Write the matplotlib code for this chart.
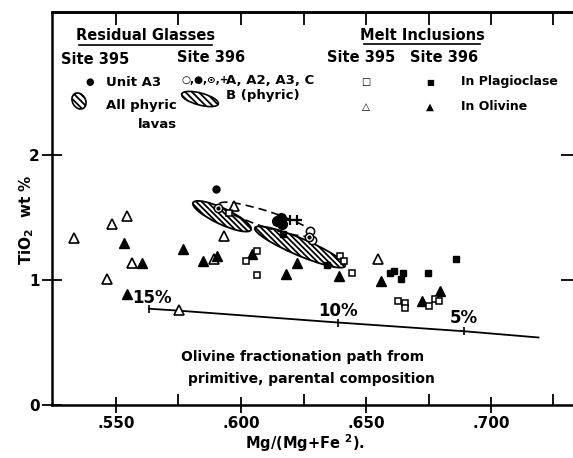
import matplotlib
matplotlib.use("Agg")
import matplotlib.pyplot as plt
import matplotlib.transforms as mtransforms
from matplotlib.patches import Ellipse
from matplotlib.ticker import FixedLocator, FixedFormatter, NullFormatter

plt.rcParams['font.family'] = ['DejaVu Sans']
plt.rcParams['font.weight'] = 'bold'
plt.rcParams['hatch.linewidth'] = 1.3

# ---- data ----
tri_open_x = [0.5331, 0.5484, 0.5543, 0.5563, 0.5465, 0.5753, 0.5893, 0.5932, 0.5973, 0.6547]
tri_open_y = [1.34, 1.45, 1.51, 1.14, 1.01, 0.76, 1.17, 1.35, 1.59, 1.17]
tri_fill_x = [0.5533, 0.5604, 0.5543, 0.5769, 0.5850, 0.5903, 0.6043, 0.6180, 0.6223, 0.6393, 0.6560, 0.6723, 0.6796]
tri_fill_y = [1.30, 1.14, 0.89, 1.25, 1.15, 1.19, 1.21, 1.05, 1.14, 1.03, 0.99, 0.83, 0.91]
sq_open_x = [0.5950, 0.6063, 0.6020, 0.6063, 0.6396, 0.6412, 0.6445, 0.6627, 0.6656, 0.6656, 0.6750, 0.6776, 0.6793]
sq_open_y = [1.54, 1.23, 1.15, 1.04, 1.19, 1.15, 1.06, 0.83, 0.82, 0.78, 0.79, 0.85, 0.83]
sq_fill_x = [0.6167, 0.6343, 0.6596, 0.6610, 0.6647, 0.6640, 0.6747, 0.6860]
sq_fill_y = [1.37, 1.12, 1.06, 1.07, 1.06, 1.01, 1.06, 1.17]
glass395_x = [0.5900]
glass395_y = [1.73]
glassA_x = [0.6276, 0.6285]           # open circles (A)
glassA_y = [1.39, 1.32]
glassA2_x = [0.6145, 0.6160, 0.6165]  # filled circles (A2)
glassA2_y = [1.47, 1.50, 1.45]
glassA3_x = [0.5910, 0.6272]          # dotted circles (A3)
glassA3_y = [1.58, 1.345]
glassC_x = [0.6196, 0.6225]           # plus (C)
glassC_y = [1.48, 1.48]
frac_x = [0.5633, 0.5749, 0.6387, 0.6893, 0.7190]
frac_y = [0.770, 0.755, 0.660, 0.590, 0.540]
frac_tick_x = [0.5633, 0.6387, 0.6893]
frac_tick_y = [0.770, 0.660, 0.590]
frac_labels = ['15%', '10%', '5%']
xticks_major = [0.550, 0.600, 0.650, 0.700]
xtick_labels = ['.550', '.600', '.650', '.700']
xticks_minor = [0.575, 0.625, 0.675, 0.725]
yticks = [0, 1, 2]
ytick_labels = ['0', '1', '2']
# ellipses: center x, center y, length (in), width (in), angle (deg)
ell_395 = (0.5924, 1.51, 0.64, 0.16, -25)
ell_396B = (0.6236, 1.264, 0.98, 0.17, -23)
ell_dash = (0.6104, 1.485, 1.00, 0.16, -18)

fig = plt.figure(figsize=(5.73, 4.58), dpi=100)
ax = fig.add_axes([52/573, (458-405)/458, 1 - 52/573, (405-12)/458])
ax.set_xlim(0.5244, 0.7328)
ax.set_ylim(0, 3.144)

def ellipse(p, **kw):
    cx, cy, L, W, ang = p
    tr = fig.dpi_scale_trans + mtransforms.ScaledTranslation(cx, cy, ax.transData)
    e = Ellipse((0, 0), L, W, angle=ang, transform=tr, **kw)
    ax.add_patch(e)

H = '\\' * 6
ellipse(ell_395, facecolor='white', edgecolor='black', hatch=H, lw=1.3, zorder=2)
ellipse(ell_396B, facecolor='white', edgecolor='black', hatch=H, lw=1.3, zorder=2)
ellipse(ell_dash, facecolor='none', edgecolor='black', lw=1.2, ls=(0, (5, 3)), zorder=2)

# fractionation path
ax.plot(frac_x, frac_y, color='black', lw=1.3, zorder=3)
ax.plot(frac_tick_x, frac_tick_y, ls='none', marker='|', ms=6, mew=1.2, color='black', zorder=3)
lab_off = [(2, 8), (0, 8), (0, 9.5)]
for x, y, t, off in zip(frac_tick_x, frac_tick_y, frac_labels, lab_off):
    ax.annotate(t, (x, y), xytext=off, textcoords='offset points', ha='center', va='center',
                fontsize=12, fontweight='bold')

ax.plot(tri_open_x, tri_open_y, ls='none', marker='^', ms=6.5, mfc='white', mec='black', mew=1.2, zorder=4)
ax.plot(tri_fill_x, tri_fill_y, ls='none', marker='^', ms=6.5, mfc='black', mec='black', zorder=4)
ax.plot(sq_open_x, sq_open_y, ls='none', marker='s', ms=4.5, mfc='white', mec='black', mew=1.1, zorder=4)
ax.plot(sq_fill_x, sq_fill_y, ls='none', marker='s', ms=4.5, mfc='black', mec='black', zorder=4)
ax.plot(glass395_x, glass395_y, ls='none', marker='o', ms=5, mfc='black', mec='black', zorder=4)
ax.plot(glassA_x, glassA_y, ls='none', marker='o', ms=6, mfc='white', mec='black', mew=1.1, zorder=4)
ax.plot(glassA2_x, glassA2_y, ls='none', marker='o', ms=7, mfc='black', mec='black', zorder=4)
ax.plot(glassA3_x, glassA3_y, ls='none', marker='o', ms=6, mfc='white', mec='black', mew=1.1, zorder=4)
ax.plot(glassA3_x, glassA3_y, ls='none', marker='o', ms=2, mfc='black', mec='black', zorder=5)
ax.plot(glassC_x, glassC_y, ls='none', marker='+', ms=7, mew=1.6, color='black', zorder=4)

# axes styling
for s in ['left', 'bottom', 'top']:
    ax.spines[s].set_linewidth(1.8)
ax.spines['right'].set_visible(False)
ax.xaxis.set_major_locator(FixedLocator(xticks_major))
ax.xaxis.set_major_formatter(FixedFormatter(xtick_labels))
ax.xaxis.set_minor_locator(FixedLocator(xticks_minor))
ax.yaxis.set_major_locator(FixedLocator(yticks))
ax.yaxis.set_major_formatter(FixedFormatter(ytick_labels))
ax.tick_params(axis='x', which='major', direction='inout', length=12, width=1.3,
               labelsize=11, pad=2)
ax.tick_params(axis='x', which='minor', direction='in', length=8, width=1.3)
ax.tick_params(axis='y', which='major', direction='inout', length=14, width=1.3,
               labelsize=11, pad=2)
for lab in ax.get_xticklabels() + ax.get_yticklabels():
    lab.set_fontweight('bold')

# top ticks (inward only)
top = ax.secondary_xaxis('top')
top.xaxis.set_major_locator(FixedLocator(xticks_major + xticks_minor))
top.xaxis.set_major_formatter(NullFormatter())
top.tick_params(direction='in', length=9, width=1.3)
top.spines['top'].set_linewidth(1.8)
# right ticks (inward only)
rgt = ax.secondary_yaxis('right')
rgt.yaxis.set_major_locator(FixedLocator(yticks[1:]))
rgt.yaxis.set_major_formatter(NullFormatter())
rgt.tick_params(direction='in', length=9, width=1.3)
rgt.spines['right'].set_visible(False)

fig.text(27/573, 1 - 220/458, 'TiO$_\\mathbf{2}$  wt %', rotation=90, ha='center', va='center',
         fontsize=11, fontweight='bold')
fig.text(305/573, 1 - 443/458, 'Mg/(Mg+Fe $^\\mathbf{2}$).', ha='center', va='center',
         fontsize=10.5, fontweight='bold')

# in-plot text
def ftext(px, py, s, size=9.5, ha='left', **kw):
    fig.text(px/573, 1 - py/458, s, ha=ha, va='center', fontsize=size, fontweight='bold', **kw)

ftext(146, 36, 'Residual Glasses', size=10.5, ha='center')
ax.plot([79/573, 212/573], [1 - 45/458]*2, transform=fig.transFigure, color='black', lw=1.2, clip_on=False)
ftext(422, 35, 'Melt Inclusions', size=10.5, ha='center')
ax.plot([364/573, 480/573], [1 - 44/458]*2, transform=fig.transFigure, color='black', lw=1.2, clip_on=False)
ftext(95, 59, 'Site 395', size=10.5, ha='center')
ftext(211, 57, 'Site 396', size=10.5, ha='center')
ftext(361, 57, 'Site 395', size=10.5, ha='center')
ftext(444, 57, 'Site 396', size=10.5, ha='center')
ftext(90, 82, '\u25CF', size=7, ha='center')
ftext(106, 82, 'Unit A3', size=9.5)
ftext(106, 106, 'All phyric', size=9.5)
ftext(138, 124, 'lavas', size=9.5)
ftext(181, 80, '\u25CB,\u25CF,\u2299,+', size=7.5)
ftext(226, 81, 'A, A2, A3, C', size=9.5)
ftext(226, 95, 'B (phyric)', size=9.5)
ftext(366, 82, '\u25A1', size=7, ha='center')
ftext(430, 82, '\u25A0', size=6, ha='center')
ftext(366, 107, '\u25B3', size=7.5, ha='center')
ftext(430, 107, '\u25B2', size=7.5, ha='center')
ftext(461, 81, 'In Plagioclase', size=9)
ftext(461, 106, 'In Olivine', size=9)
ftext(303, 357, 'Olivine fractionation path from', size=10, ha='center')
ftext(311, 379, 'primitive, parental composition', size=10, ha='center')

# legend hatched symbols
for (px, py, L, W, ang) in [(79, 101, 0.17, 0.13, -60), (200, 99, 0.38, 0.12, -15)]:
    tr = fig.dpi_scale_trans + mtransforms.ScaledTranslation(px/573, 1 - py/458, fig.transFigure)
    e = Ellipse((0, 0), L, W, angle=ang, transform=tr, facecolor='white', edgecolor='black',
                hatch='\\' * 5, lw=1.2)
    fig.add_artist(e)

fig.savefig('out.png', dpi=100)
